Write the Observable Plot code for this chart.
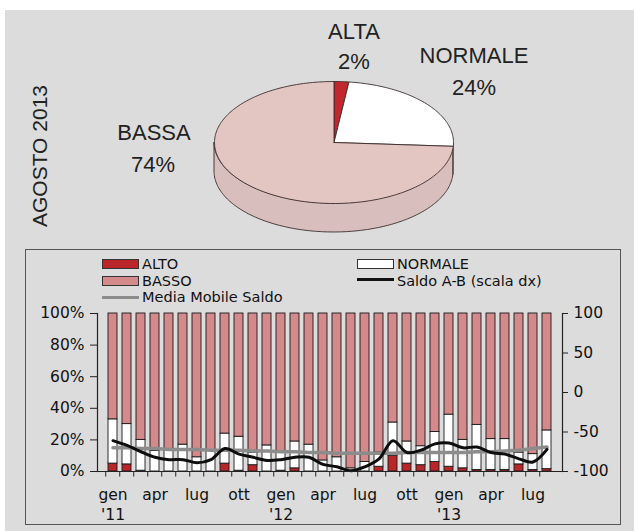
<!DOCTYPE html>
<html><head><meta charset="utf-8">
<script src="https://cdn.jsdelivr.net/npm/d3@7"></script>
<script src="https://cdn.jsdelivr.net/npm/@observablehq/plot@0.6"></script>
<style>
body{margin:0;background:#fff;}
#wrap{position:relative;width:634px;height:531px;overflow:hidden;background:#fff;}
#bg{position:absolute;left:5px;top:10px;width:629px;height:521px;background:#dcdcdc;}
#pie{position:absolute;left:0;top:0;}
#bars{position:absolute;left:0;top:300px;}
#frame{position:absolute;left:25px;top:249px;width:596px;height:276px;border:1px solid #555;box-sizing:border-box;}
.pl{position:absolute;font-family:"Liberation Sans",Arial,sans-serif;font-size:22px;color:#222;text-align:center;line-height:1;transform:translateX(-50%);white-space:nowrap;}
.lg{position:absolute;font-family:"DejaVu Sans",sans-serif;font-size:14.5px;color:#111;line-height:1;white-space:nowrap;}
.sw{position:absolute;box-sizing:border-box;border:1px solid #333;}
.ln{position:absolute;height:3px;}
#agosto{position:absolute;left:40px;top:156px;font-family:"Liberation Sans",Arial,sans-serif;font-size:21px;color:#222;transform:translate(-50%,-50%) rotate(-90deg);white-space:nowrap;}
</style></head>
<body>
<div id="wrap">
  <div id="bg"></div>
  <div id="pie"></div>
  <div id="agosto">AGOSTO 2013</div>
  <div class="pl" style="left:354px;top:21px">ALTA</div>
  <div class="pl" style="left:354px;top:51px">2%</div>
  <div class="pl" style="left:474px;top:45px">NORMALE</div>
  <div class="pl" style="left:474px;top:77px">24%</div>
  <div class="pl" style="left:154px;top:122px">BASSA</div>
  <div class="pl" style="left:153px;top:154px">74%</div>
  <div id="frame"></div>
  <div class="sw" style="left:102px;top:259px;width:37px;height:10px;background:#b8262a"></div>
  <div class="lg" style="left:142px;top:257px">ALTO</div>
  <div class="sw" style="left:102px;top:276px;width:37px;height:10px;background:#d4898a"></div>
  <div class="lg" style="left:142px;top:274px">BASSO</div>
  <div class="ln" style="left:102px;top:296px;width:37px;background:#8c8c8c"></div>
  <div class="lg" style="left:142px;top:290px">Media Mobile Saldo</div>
  <div class="sw" style="left:357px;top:259px;width:37px;height:10px;background:#fff"></div>
  <div class="lg" style="left:397px;top:257px">NORMALE</div>
  <div class="ln" style="left:357px;top:278px;width:37px;background:#111"></div>
  <div class="lg" style="left:397px;top:274px">Saldo A-B (scala dx)</div>
  <div id="bars"></div>
</div>
<script>
// ---------- data ----------
const pieLabels = ["ALTA", "NORMALE", "BASSA"];
const pieValues = [2, 24, 74];

const monthNames = ["gen","feb","mar","apr","mag","giu","lug","ago","set","ott","nov","dic"];
const yearLabels = ["'11", "'12", "'13"];
// Jan 2011 .. Aug 2013 (32 months), percentages
const alto    = [5, 4.5, 0.5, 0, 0, 0, 0, 0, 5, 0.5, 4, 0, 0.5, 2, 0, 0, 0, 0, 0, 3, 10, 5, 4, 6, 3, 2, 1, 1, 1, 4.5, 1, 1.5];
const normale = [28, 25.5, 19.5, 13, 13, 17, 9, 13, 19, 21.5, 8, 16.5, 11.5, 17, 17, 7, 9, 2, 6, 9, 21, 14, 12, 19, 33, 18, 28.5, 19.5, 19.5, 7.5, 10, 24.5];
const basso   = [67, 70, 80, 87, 87, 83, 91, 87, 76, 78, 88, 83.5, 88, 81, 83, 93, 91, 98, 94, 88, 69, 81, 84, 75, 64, 80, 70.5, 79.5, 79.5, 88, 89, 74];
// Saldo A-B (right scale, -100..100)
const saldo   = [-61, -67, -75, -82, -85, -85, -89, -85, -71, -78, -82, -86, -85, -82, -82, -91, -94, -99, -94, -84, -61, -76, -73, -65, -64, -70, -69, -76, -78, -84, -88, -72];
const mediaMobile = [-70, -70, -71, -71, -72, -72, -72, -73, -73, -73, -74, -74, -75, -75, -76, -76, -77, -77, -77, -77, -77, -76, -76, -76, -76, -76, -75, -75, -74, -73, -71, -69];

// ---------- pie (3D) ----------
const pieTop  = ["#c1272d", "#ffffff", "#e3c5c2"];
const pieSide = ["#9e2024", "#e6e6e6", "#d8bebc"];
const arcs = d3.pie().sort(null).value(d => d)(pieValues);
const depth = 0.475;
const topPts = [], sidePts = [];
arcs.forEach((a, k) => {
  const n = Math.max(2, Math.ceil((a.endAngle - a.startAngle) / 0.02));
  topPts.push({k, x: 0, y: 0});
  for (let j = 0; j <= n; j++) {
    const t = a.startAngle + (a.endAngle - a.startAngle) * j / n;
    topPts.push({k, x: Math.sin(t), y: -Math.cos(t)});
  }
  topPts.push({k, x: 0, y: 0});
  const s0 = Math.max(a.startAngle, Math.PI / 2), s1 = Math.min(a.endAngle, 3 * Math.PI / 2);
  if (s1 > s0) {
    const m = Math.max(2, Math.ceil((s1 - s0) / 0.02));
    for (let j = 0; j <= m; j++) {
      const t = s0 + (s1 - s0) * j / m;
      sidePts.push({k, x: Math.sin(t), y1: -Math.cos(t), y2: -Math.cos(t) + depth});
    }
  }
});
const piePlot = Plot.plot({
  width: 634, height: 240, margin: 0,
  x: {domain: [-1, 1], range: [214, 453], axis: null},
  y: {domain: [-1, 1], range: [81, 203], axis: null},
  color: {type: "identity"},
  style: {background: "none", overflow: "visible"},
  marks: [
    Plot.areaY(sidePts, {x: "x", y1: "y1", y2: "y2", z: "k", fill: d => pieSide[d.k], stroke: "#3a2b2b", strokeWidth: 0.9}),
    Plot.line(topPts, {x: "x", y: "y", z: "k", fill: d => pieTop[d.k], stroke: "#3a2b2b", strokeWidth: 0.9})
  ]
});
document.getElementById("pie").appendChild(piePlot);

// ---------- bars ----------
const idx = d3.range(alto.length);
const cats = ["ALTO", "NORMALE", "BASSO"];
const rows = [];
idx.forEach(i => {
  rows.push({i, cat: "ALTO", v: alto[i]});
  rows.push({i, cat: "NORMALE", v: normale[i]});
  rows.push({i, cat: "BASSO", v: basso[i]});
});
const toLeft = s => (s + 100) / 2;
const saldoRows = idx.map(i => ({i, y: toLeft(saldo[i])}));
const mediaRows = idx.map(i => ({i, y: toLeft(mediaMobile[i])}));
const W = 634, H = 231, mL = 97, mR = 72, mT = 13, mB = 60;
const pIn = 0.35, pOut = 0.2;
const step = (W - mL - mR) / (idx.length - pIn + 2 * pOut);
const tickLabel = i => {
  if (i % 3 !== 0) return "";
  const m = monthNames[i % 12];
  return (i % 12 === 0) ? m + "\n" + yearLabels[i / 12] : m;
};
const barPlot = Plot.plot({
  width: W, height: H, marginLeft: mL, marginRight: mR, marginTop: mT, marginBottom: mB,
  x: {type: "band", domain: idx, paddingInner: pIn, paddingOuter: pOut, axis: null, label: null},
  y: {domain: [0, 100], axis: null, label: null},
  color: {domain: cats, range: ["#b8262a", "#ffffff", "#d4898a"]},
  style: {background: "none", overflow: "visible", fontFamily: "DejaVu Sans, sans-serif", fontSize: "15px", color: "#111"},
  marks: [
    Plot.barY(rows, {x: "i", y: "v", fill: "cat", order: cats, stroke: "#1a1a1a", strokeWidth: 0.9}),
    Plot.line(mediaRows, {x: "i", y: "y", stroke: "#8c8c8c", strokeWidth: 3.5}),
    Plot.line(saldoRows, {x: "i", y: "y", stroke: "#0d0d0d", strokeWidth: 3, curve: "catmull-rom"}),
    Plot.ruleY([0], {stroke: "#222", strokeWidth: 1.2}),
    Plot.ruleX(idx, {x: d => d, y1: 0, y2: -3.5, dx: -step / 2, stroke: "#222"}),
    Plot.frame({anchor: "left", stroke: "#222", strokeWidth: 1.2}),
    Plot.frame({anchor: "right", stroke: "#222", strokeWidth: 1.2}),
    Plot.axisY({anchor: "left", label: null, ticks: [0, 20, 40, 60, 80, 100], tickFormat: d => d + "%", tickSize: 7, tickPadding: 6, fontSize: 15.5, stroke: "#222"}),
    Plot.axisY({anchor: "right", label: null, ticks: [0, 25, 50, 75, 100], tickFormat: d => String(d * 2 - 100), tickSize: 5, tickPadding: 6, fontSize: 15.5, stroke: "#222"}),
    Plot.axisX({label: null, ticks: idx.filter(i => i % 3 === 0), tickFormat: tickLabel, tickSize: 0, tickPadding: 15, fontSize: 15.5, lineHeight: 1.25})
  ]
});
document.getElementById("bars").appendChild(barPlot);
</script>
</body></html>
